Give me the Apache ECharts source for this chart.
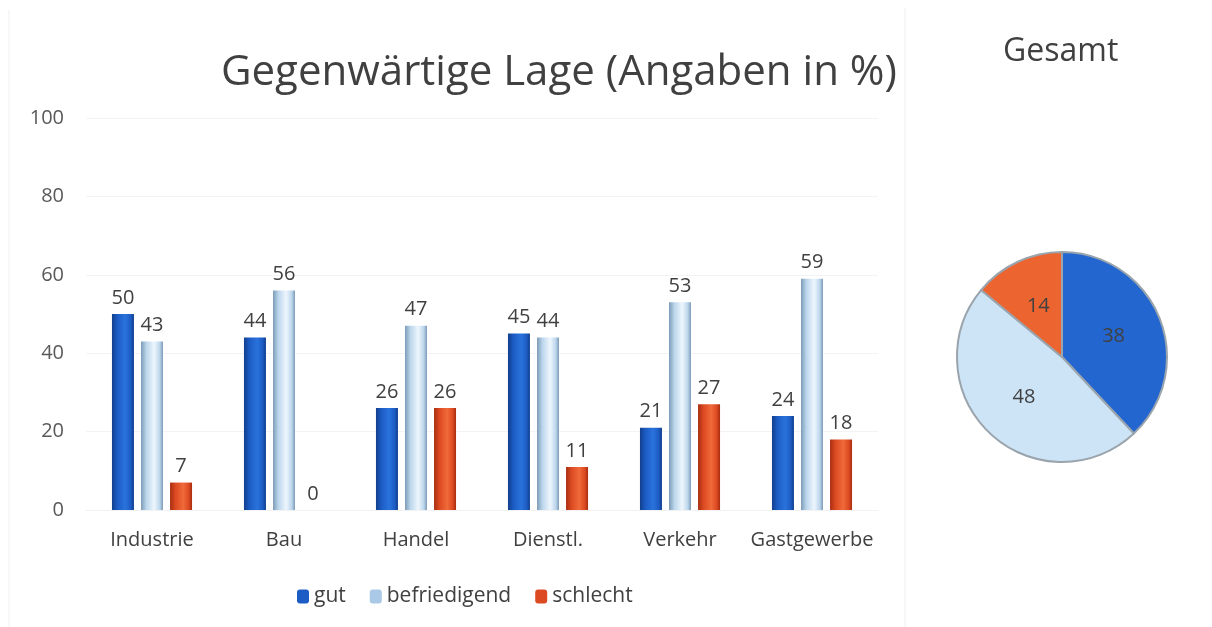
<!DOCTYPE html>
<html>
<head>
<meta charset="utf-8">
<script src="https://cdn.jsdelivr.net/npm/echarts@6/dist/echarts.min.js"></script>
<style>
  html, body { margin: 0; padding: 0; background: #fff; }
  #ech { width: 1212px; height: 627px; }
</style>
</head>
<body>
<div id="ech"></div>
<script>
// Daten
var branchen = ['Industrie', 'Bau', 'Handel', 'Dienstl.', 'Verkehr', 'Gastgewerbe'];
var gut = [50, 44, 26, 45, 21, 24];
var befriedigend = [43, 56, 47, 44, 53, 59];
var schlecht = [7, 0, 26, 11, 27, 18];
var gesamtNamen = ['gut', 'befriedigend', 'schlecht'];
var gesamtWerte = [38, 48, 14];
var yTicks = [0, 20, 40, 60, 80, 100];

var font = '"Open Sans", "Noto Sans", sans-serif';

function bevel(dark, mid, light) {
    return new echarts.graphic.LinearGradient(0, 0, 1, 0, [
        {offset: 0, color: dark},
        {offset: 0.25, color: mid},
        {offset: 0.6, color: light},
        {offset: 0.85, color: mid},
        {offset: 1, color: dark}
    ]);
}

var farben = {
    gut: bevel('#123f8c', '#1c5cc4', '#2a72dc'),
    befr: bevel('#7d9cb8', '#bcd6ec', '#eef6fd'),
    schl: bevel('#a82d10', '#dc4a22', '#f06a3a')
};

var labelStyle = {show: true, position: 'top', color: '#404040', fontSize: 20, fontFamily: font, distance: 6};

var ownChart = echarts.init(document.getElementById('ech'));
var option = {
    backgroundColor: '#ffffff',
    animation: false,
    title: [{
        text: 'Gegenwärtige Lage (Angaben in %)',
        left: 216, top: 47,
        textStyle: {fontSize: 42, fontWeight: 'normal', color: '#404040', fontFamily: font}
    }, {
        text: 'Gesamt',
        left: 998, top: 31,
        textStyle: {fontSize: 32, fontWeight: 'normal', color: '#404040', fontFamily: font}
    }],
    legend: {
        bottom: 15, left: 292,
        itemWidth: 12, itemHeight: 14, itemGap: 24,
        textStyle: {fontSize: 21, color: '#404040', fontFamily: font},
        data: [
            {name: 'gut', itemStyle: {color: '#1c5cc4'}},
            {name: 'befriedigend', itemStyle: {color: '#a9c9e6'}},
            {name: 'schlecht', itemStyle: {color: '#dc4a22'}}
        ]
    },
    grid: {left: 86, right: 1212 - 878, top: 118, bottom: 627 - 510, containLabel: false},
    xAxis: {
        type: 'category',
        data: branchen,
        axisLine: {show: true, lineStyle: {color: '#f2f2f2'}},
        axisTick: {show: false},
        axisLabel: {interval: 0, fontSize: 20, color: '#404040', fontFamily: font, margin: 20}
    },
    yAxis: {
        type: 'value', min: yTicks[0], max: yTicks[yTicks.length - 1], interval: 20,
        axisLine: {show: false}, axisTick: {show: false},
        axisLabel: {fontSize: 20, color: '#595959', fontFamily: font, margin: 22},
        splitLine: {lineStyle: {color: '#f3f3f3'}}
    },
    series: [{
        name: 'gut', type: 'bar', data: gut, barWidth: 22, barGap: '32%',
        itemStyle: {color: farben.gut}, label: labelStyle
    }, {
        name: 'befriedigend', type: 'bar', data: befriedigend, barWidth: 22,
        itemStyle: {color: farben.befr}, label: labelStyle
    }, {
        name: 'schlecht', type: 'bar', data: schlecht, barWidth: 22,
        itemStyle: {color: farben.schl}, label: labelStyle
    }, {
        name: 'Gesamt', type: 'pie',
        center: [1062, 357], radius: 105,
        startAngle: 90, clockwise: true,
        data: gesamtNamen.map(function (n, i) { return {name: n, value: gesamtWerte[i]}; }),
        color: ['#2466d0', '#cde4f6', '#ec6430'],
        itemStyle: {borderColor: '#9aa4ad', borderWidth: 2},
        label: {position: 'inside', formatter: '{c}', fontSize: 20, color: '#404040', fontFamily: font},
        labelLine: {show: false},
        emphasis: {disabled: true}
    }],
    graphic: [{
        type: 'line', shape: {x1: 905, y1: 8, x2: 905, y2: 627},
        style: {stroke: '#eeeeee', lineWidth: 1}
    }, {
        type: 'line', shape: {x1: 9, y1: 10, x2: 9, y2: 627},
        style: {stroke: '#f0f0f0', lineWidth: 1}
    }]
};

ownChart.setOption(option);
</script>
</body>
</html>
